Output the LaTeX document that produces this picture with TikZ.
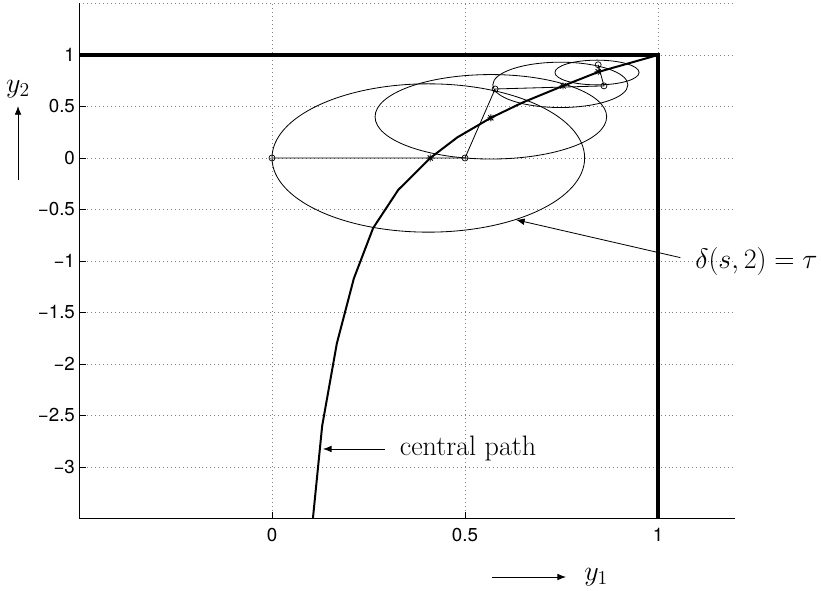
\RequirePackage{fix-cm}
\documentclass[tikz,border=0pt]{standalone}
\usepackage{fontspec}
\setsansfont{TeX Gyre Heros}
\usetikzlibrary{arrows.meta,positioning}

\begin{document}
\begin{tikzpicture}[
  x=11.58cm, y=3.09cm,
  gridline/.style={gray, line width=0.5pt, dash pattern=on 0.6pt off 2.8pt},
  axis/.style={line width=0.8pt},
  tickmark/.style={line width=0.6pt},
  bound/.style={line width=3.2pt},
  cpath/.style={line width=1.7pt, line join=round},
  thin/.style={line width=0.7pt},
  iter/.style={circle, draw, line width=0.6pt, inner sep=0pt, minimum size=0.18cm},
  ticklbl/.style={font=\sffamily\fontsize{16}{19}\selectfont, inner sep=0pt},
  lbl/.style={font=\fontsize{24}{28}\selectfont, inner sep=0pt},
  arrow/.style={-{Latex[length=2.6mm, width=2mm]}, line width=0.7pt}
]
\useasboundingbox (-0.7047,-4.204) rectangle (1.4223,1.534);

% grid and axes
\foreach \y in {-3,-2.5,...,1} \draw[gridline] (-0.5,\y) -- (1.2,\y);
\foreach \x in {0,0.5,1} \draw[gridline] (\x,-3.5) -- (\x,1.5);
\draw[gridline] (-0.5,1.5) -- (1.2,1.5);
\draw[axis] (-0.5,1.5) -- (-0.5,-3.5) -- (1.2,-3.5);
\foreach \y/\t [count=\i] in {-3/−3,-2.5/−2.5,-2/−2,-1.5/−1.5,-1/−1,-0.5/−0.5,0/0,0.5/0.5,1/1} {
  \draw[tickmark] (-0.5,\y) -- ++(0.2cm,0);
  \node[ticklbl, anchor=east] (ytick\i) at (-0.51,\y) {\t};
}
\foreach \x/\t [count=\i] in {0/0,0.5/0.5,1/1} {
  \draw[tickmark] (\x,-3.5) -- ++(0,0.2cm);
  \node[ticklbl] (xtick\i) at (\x,-3.66) {\t};
}

% feasible region boundary
\draw[bound] (-0.5,1) -- (1,1) -- (1,-3.5);

% level sets
\draw[thin] (0.405,0) ellipse [x radius=0.405, y radius=0.72];
\draw[thin] (0.567,0.40) ellipse [x radius=0.30, y radius=0.41];
\draw[thin] (0.747,0.71) ellipse [x radius=0.175, y radius=0.22];
\draw[thin] (0.842,0.83) ellipse [x radius=0.109, y radius=0.12];

% central path
\draw[cpath] plot coordinates {(0.106,-3.5) (0.13,-2.6) (0.168,-1.8) (0.212,-1.17)
  (0.262,-0.68) (0.327,-0.31) (0.41,0) (0.48,0.2) (0.567,0.39) (0.65,0.54)
  (0.754,0.70) (0.845,0.835) (1,1)};

% targets on the path
\foreach \a/\b [count=\i] in {0.41/0, 0.567/0.39, 0.754/0.70, 0.845/0.838} {
  \coordinate (tgt\i) at (\a,\b);
  \draw[thin] (tgt\i) +(-3pt,0) -- +(3pt,0) +(0,-3pt) -- +(0,3pt)
    +(-2.2pt,-2.2pt) -- +(2.2pt,2.2pt) +(-2.2pt,2.2pt) -- +(2.2pt,-2.2pt);
}

% iterates
\node[iter] (it0) at (0,0) {};
\node[iter] (it1) at (0.5,0) {};
\node[iter] (it2) at (0.578,0.67) {};
\node[iter] (it3) at (0.86,0.70) {};
\node[iter] (it4) at (0.845,0.905) {};
\draw[thin] (it0.center) -- (it1.center) -- (it2.center) -- (it3.center) -- (it4.center);

% labels
\coordinate (cptip) at (0.132,-2.825);
\node[lbl, right=2.3cm of cptip] (cplbl) {central path};
\draw[arrow, shorten <=0.45cm] (cplbl) -- (cptip);

\coordinate (deltatip) at (0.632,-0.600);
\node[lbl, anchor=west] (deltalbl) at (1.0959,-1.0) {$\delta(s,2)=\tau$};
\draw[arrow, shorten <=0.45cm] (deltalbl.west) -- (deltatip);

\coordinate (y2tail) at (-0.658,-0.214);
\node[lbl, above=2.46cm of y2tail] (y2lbl) {$y_2$};
\draw[arrow, shorten >=0.24cm] (y2tail) -- (y2lbl);

\coordinate (y1tail) at (0.570,-4.068);
\node[lbl, right=2.76cm of y1tail] (y1lbl) {$y_1$};
\draw[arrow, shorten >=0.54cm] (y1tail) -- (y1lbl);
\end{tikzpicture}
\end{document}
